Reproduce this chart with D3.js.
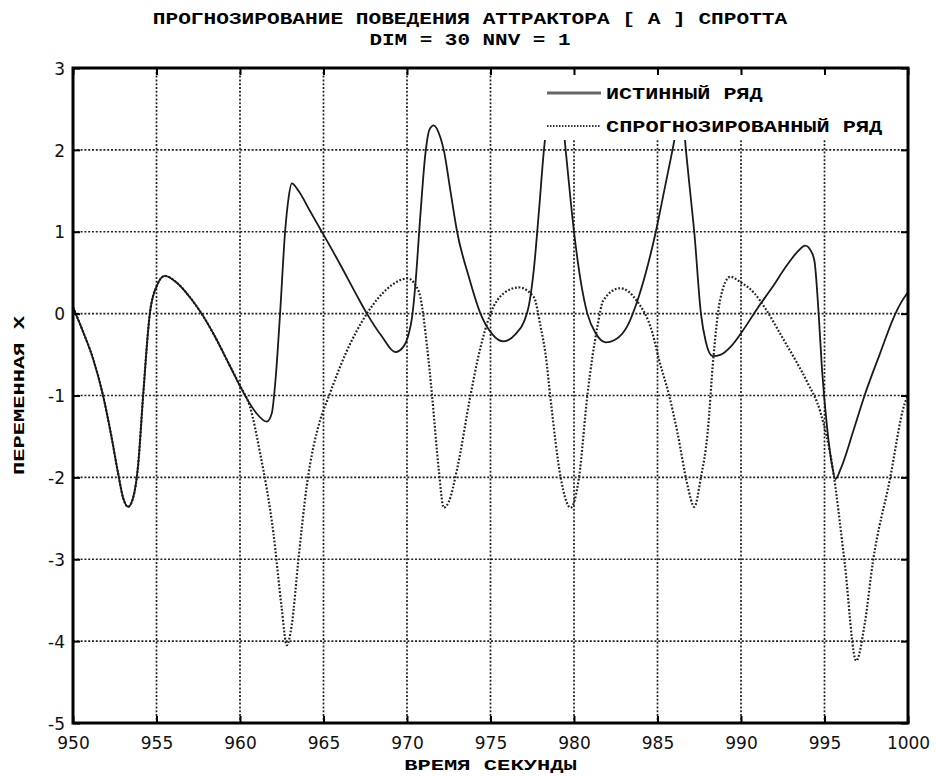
<!DOCTYPE html>
<html>
<head>
<meta charset="utf-8">
<script src="https://cdn.jsdelivr.net/npm/d3@7"></script>
<style>
  body { margin: 0; background: #fff; }
  svg { display: block; }
  .mono { font-family: "Liberation Mono", "DejaVu Sans Mono", monospace; font-weight: bold; }
  .tick text { font-family: "DejaVu Sans", sans-serif; font-size: 17px; fill: #111; }
</style>
</head>
<body>
<div id="chart"></div>
<script>
const WIDTH = 936, HEIGHT = 776;
const PLOT = { left: 73, right: 908, top: 68, bottom: 723 };

// time stamps and values of the true series
const trueT = [950, 950.6, 951.2, 951.8, 952.3, 952.7, 953.0, 953.3, 953.6, 953.9, 954.2, 954.6, 955.0, 955.5,
  956.2, 957.0, 957.7, 958.5, 959.3, 960.3, 961.0, 961.6, 961.9, 962.15, 962.4, 962.7, 962.9, 963.1,
  963.5, 964.2, 964.9, 966.0, 967.0, 967.6, 968.5, 969.3, 969.8, 970.1, 970.3, 970.5, 970.8, 971.1,
  971.35, 971.6, 972.0, 972.2, 972.6, 973.0, 973.7, 974.4, 975.1, 975.8, 976.5, 977.0, 977.3, 977.6,
  977.9, 978.2, 978.6, 978.9, 979.2, 979.5, 980.0, 980.4, 980.8, 981.3, 981.9, 982.6, 983.2, 983.7,
  984.3, 984.9, 985.4, 985.9, 986.3, 986.5, 986.7, 987.0, 987.2, 987.6, 987.9, 988.3, 988.8, 989.4,
  990.0, 991.0, 991.8, 992.75, 993.4, 993.85, 994.2, 994.4, 994.65, 994.85, 995.15, 995.45, 995.65,
  996.0, 996.7, 997.4, 998.3, 999.2, 999.6, 1000];
const trueX = [0.08, -0.22, -0.55, -1.0, -1.5, -1.95, -2.25, -2.36, -2.25, -1.85, -1.0, 0.0, 0.33, 0.46,
  0.38, 0.2, 0.0, -0.28, -0.6, -1.0, -1.22, -1.32, -1.22, -0.75, 0.0, 1.0, 1.4, 1.59,
  1.5, 1.25, 1.0, 0.6, 0.22, 0.0, -0.28, -0.47, -0.4, -0.25, -0.05, 0.35, 1.2, 1.95,
  2.25, 2.3, 2.15, 2.0, 1.5, 1.0, 0.45, 0.0, -0.25, -0.34, -0.25, -0.1, 0.1, 0.55,
  1.25, 2.0, 2.6, 2.75, 2.6, 2.0, 1.0, 0.4, 0.0, -0.24, -0.35, -0.3, -0.15, 0.1,
  0.5, 1.0, 1.5, 2.0, 2.4, 2.45, 2.0, 1.4, 1.0, 0.0, -0.35, -0.52, -0.5, -0.4,
  -0.24, 0.07, 0.3, 0.59, 0.76, 0.83, 0.76, 0.64, 0.0, -0.68, -1.38, -1.85, -2.02,
  -1.88, -1.45, -1.0, -0.5, -0.02, 0.14, 0.26];

// predicted series
const predT = [950, 950.6, 951.2, 951.8, 952.3, 952.7, 953.0, 953.3, 953.6, 953.9, 954.2, 954.6, 955.0, 955.5,
  956.2, 957.0, 957.7, 958.5, 959.3, 960.0, 960.6, 961.2, 962.0, 962.5, 962.8, 963.1, 963.5, 964.0,
  964.8, 965.3, 966.3, 967.6, 968.8, 970.05, 970.5, 970.8, 971.2, 971.5, 971.9, 972.2, 972.5, 973.0,
  973.8, 974.3, 975.0, 975.8, 976.7, 977.6, 978.0, 978.3, 978.6, 979.2, 979.8, 980.3, 980.8, 981.4,
  981.75, 982.75, 983.75, 984.7, 985.1, 985.7, 986.2, 986.8, 987.2, 987.6, 988.0, 988.35, 988.75,
  989.35, 990.0, 990.8, 991.5, 992.5, 993.35, 994.0, 994.75, 995.5, 996.2, 996.9, 997.4, 997.9,
  998.9, 999.8, 1000];
const predX = [0.08, -0.22, -0.55, -1.0, -1.5, -1.95, -2.25, -2.36, -2.25, -1.85, -1.0, 0.0, 0.33, 0.46,
  0.38, 0.2, 0.0, -0.28, -0.6, -0.88, -1.14, -1.7, -2.68, -3.6, -4.05, -3.8, -3.0, -2.1,
  -1.3, -1.02, -0.5, 0.0, 0.3, 0.43, 0.35, 0.2, -0.4, -1.0, -1.9, -2.37, -2.3, -1.9,
  -1.0, -0.5, 0.0, 0.25, 0.32, 0.2, -0.16, -0.5, -1.05, -2.0, -2.37, -2.0, -1.0, -0.16,
  0.16, 0.31, 0.16, -0.24, -0.57, -1.0, -1.46, -2.1, -2.36, -2.0, -1.46, -0.53, 0.17,
  0.45, 0.38, 0.25, 0.05, -0.3, -0.6, -0.85, -1.2, -1.9, -3.03, -4.24, -3.8, -3.03,
  -2.04, -1.1, -1.0];

const xTicks = [950, 955, 960, 965, 970, 975, 980, 985, 990, 995, 1000];
const yTicks = [-5, -4, -3, -2, -1, 0, 1, 2, 3];

const titleLines = ['ПРОГНОЗИРОВАНИЕ ПОВЕДЕНИЯ АТТРАКТОРА [ А ] СПРОТТА', 'DIM = 30 NNV = 1'];
const legendLabels = ['ИСТИННЫЙ РЯД', 'СПРОГНОЗИРОВАННЫЙ РЯД'];
const xLabel = 'ВРЕМЯ СЕКУНДЫ';
const yLabel = 'ПЕРЕМЕННАЯ X';

const svg = d3.select('#chart').append('svg')
  .attr('width', WIDTH)
  .attr('height', HEIGHT);

const x = d3.scaleLinear().domain([950, 1000]).range([PLOT.left, PLOT.right]);
const y = d3.scaleLinear().domain([-5, 3]).range([PLOT.bottom, PLOT.top]);

// grid
const grid = svg.append('g').attr('id', 'grid')
  .attr('stroke', '#222')
  .attr('stroke-width', 1.7)
  .attr('stroke-dasharray', '2,1.8');

grid.selectAll('line.gx')
  .data(xTicks.slice(1, -1))
  .join('line')
  .attr('class', 'gx')
  .attr('x1', d => x(d)).attr('x2', d => x(d))
  .attr('y1', PLOT.top).attr('y2', PLOT.bottom);

grid.selectAll('line.gy')
  .data(yTicks.slice(1, -1))
  .join('line')
  .attr('class', 'gy')
  .attr('y1', d => y(d)).attr('y2', d => y(d))
  .attr('x1', PLOT.left).attr('x2', PLOT.right);

// series
svg.append('defs').append('clipPath').attr('id', 'clip')
  .append('rect')
  .attr('x', PLOT.left).attr('y', PLOT.top)
  .attr('width', PLOT.right - PLOT.left).attr('height', PLOT.bottom - PLOT.top);

const line = d3.line()
  .x(d => x(d[0]))
  .y(d => y(d[1]))
  .curve(d3.curveMonotoneX);

const series = svg.append('g').attr('clip-path', 'url(#clip)');

series.append('path')
  .datum(predT.map((t, i) => [t, predX[i]]))
  .attr('fill', 'none')
  .attr('stroke', '#222')
  .attr('stroke-width', 2.2)
  .attr('stroke-dasharray', '1.8,1.8')
  .attr('d', line);

series.append('path')
  .datum(trueT.map((t, i) => [t, trueX[i]]))
  .attr('fill', 'none')
  .attr('stroke', '#1a1a1a')
  .attr('stroke-width', 1.8)
  .attr('d', line);

// legend (white box without border, hides what is behind)
const legend = svg.append('g').attr('id', 'legend');
legend.append('rect')
  .attr('x', 541).attr('y', 72)
  .attr('width', 363).attr('height', 68)
  .attr('fill', '#fff');

legend.append('line')
  .attr('x1', 547).attr('x2', 601).attr('y1', 93).attr('y2', 93)
  .attr('stroke', '#666').attr('stroke-width', 3);
legend.append('line')
  .attr('x1', 547).attr('x2', 600).attr('y1', 126).attr('y2', 126)
  .attr('stroke', '#333').attr('stroke-width', 2).attr('stroke-dasharray', '1.5,1.5');

legend.selectAll('text')
  .data(legendLabels)
  .join('text')
  .attr('class', 'mono')
  .attr('x', 606)
  .attr('y', (d, i) => 99 + i * 33)
  .attr('font-size', 17)
  .attr('textLength', d => d.length * 13.3 - 3)
  .attr('lengthAdjust', 'spacingAndGlyphs')
  .text(d => d);

// axes: labels + inward ticks on all four sides
const xAxis = d3.axisBottom(x).tickValues(xTicks).tickSize(-7).tickPadding(14).tickFormat(d3.format('d'));
const yAxis = d3.axisLeft(y).tickValues(yTicks).tickSize(-7).tickPadding(8).tickFormat(d3.format('d'));

svg.append('g').attr('transform', `translate(0,${PLOT.bottom})`).call(xAxis);
const gy = svg.append('g').attr('transform', `translate(${PLOT.left},0)`).call(yAxis);
svg.append('g').attr('transform', `translate(0,${PLOT.top})`)
  .call(d3.axisTop(x).tickValues(xTicks).tickSize(-7).tickFormat(''));
svg.append('g').attr('transform', `translate(${PLOT.right},0)`)
  .call(d3.axisRight(y).tickValues(yTicks).tickSize(-7).tickFormat(''));

svg.selectAll('.domain').remove();
svg.selectAll('.tick line').attr('stroke', '#000').attr('stroke-width', 2);
gy.selectAll('.tick text').attr('dy', '0.36em').text(d => d < 0 ? '-' + Math.abs(d) : d);

// frame
svg.append('rect')
  .attr('x', PLOT.left).attr('y', PLOT.top)
  .attr('width', PLOT.right - PLOT.left).attr('height', PLOT.bottom - PLOT.top)
  .attr('fill', 'none')
  .attr('stroke', '#000')
  .attr('stroke-width', 3);

// titles
svg.selectAll('text.title')
  .data(titleLines)
  .join('text')
  .attr('class', 'title mono')
  .attr('x', 470)
  .attr('y', (d, i) => 24 + i * 21)
  .attr('text-anchor', 'middle')
  .attr('font-size', 17)
  .attr('textLength', d => d.length * 12.75 - 3)
  .attr('lengthAdjust', 'spacingAndGlyphs')
  .text(d => d);

svg.append('text')
  .attr('class', 'mono')
  .attr('x', (PLOT.left + PLOT.right) / 2)
  .attr('y', 770)
  .attr('text-anchor', 'middle')
  .attr('font-size', 15)
  .attr('textLength', xLabel.length * 13.5 - 3)
  .attr('lengthAdjust', 'spacingAndGlyphs')
  .text(xLabel);

svg.append('text')
  .attr('class', 'mono')
  .attr('transform', `translate(24,${(PLOT.top + PLOT.bottom) / 2}) rotate(-90)`)
  .attr('text-anchor', 'middle')
  .attr('font-size', 15)
  .attr('textLength', yLabel.length * 13.5 - 3)
  .attr('lengthAdjust', 'spacingAndGlyphs')
  .text(yLabel);
</script>
</body>
</html>
